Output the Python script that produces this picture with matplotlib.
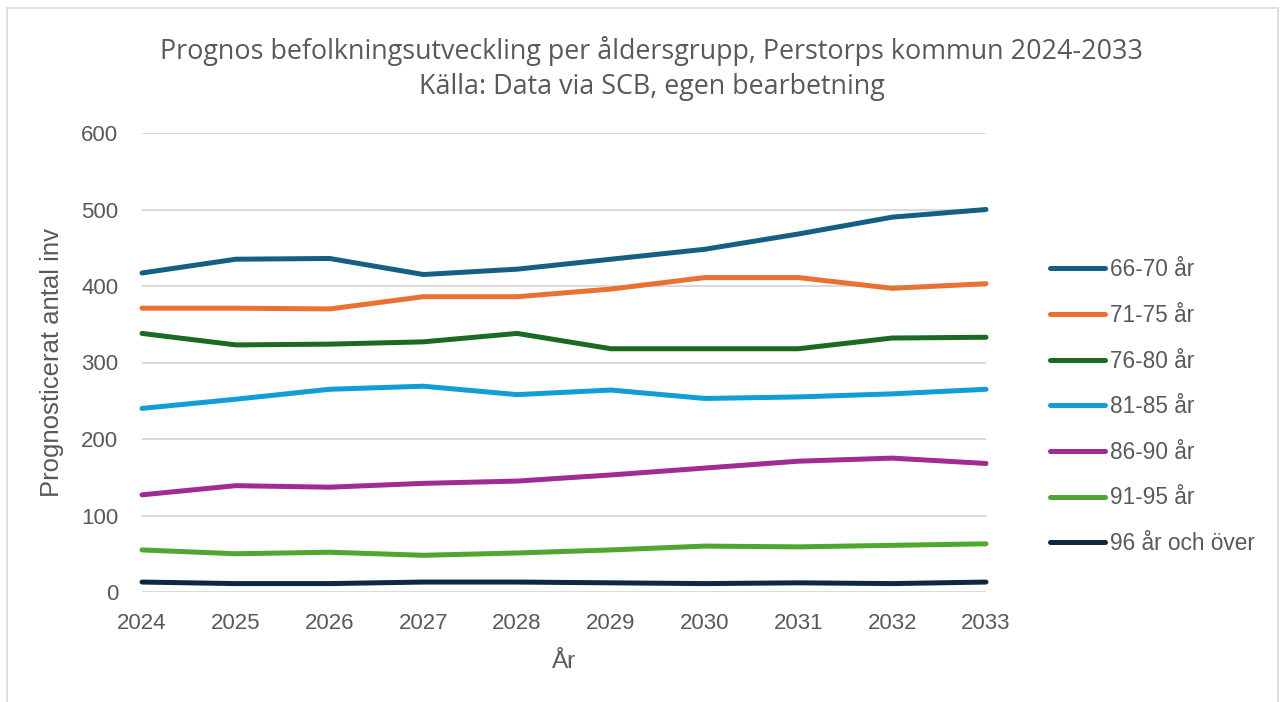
import matplotlib
matplotlib.use("Agg")
import matplotlib.pyplot as plt
from matplotlib.patches import Rectangle

years = [2024, 2025, 2026, 2027, 2028, 2029, 2030, 2031, 2032, 2033]
labels = ["66-70 år", "71-75 år", "76-80 år", "81-85 år", "86-90 år", "91-95 år", "96 år och över"]
s66_70 = [417, 435, 436, 415, 422, 435, 448, 468, 490, 500]
s71_75 = [371, 371, 370, 386, 386, 396, 411, 411, 397, 403]
s76_80 = [338, 323, 324, 327, 338, 318, 318, 318, 332, 333]
s81_85 = [240, 252, 265, 269, 258, 264, 253, 255, 259, 265]
s86_90 = [127, 139, 137, 142, 145, 153, 162, 171, 175, 168]
s91_95 = [55, 50, 52, 48, 51, 55, 60, 59, 61, 63]
s96 = [13, 11, 11, 13, 13, 12, 11, 12, 11, 13]
series = [s66_70, s71_75, s76_80, s81_85, s86_90, s91_95, s96]
colors = ["#156082", "#E97132", "#196B24", "#0F9ED5", "#A02B93", "#4EA72E", "#0E2841"]

title1 = "Prognos befolkningsutveckling per åldersgrupp, Perstorps kommun 2024-2033"
title2 = "Källa: Data via SCB, egen bearbetning"

W, H = 1280, 702
TXT = "#595959"
plt.rcParams['font.family'] = ['Liberation Sans', 'DejaVu Sans']

fig = plt.figure(figsize=(W / 100, H / 100), dpi=100)
fig.patch.set_facecolor("white")
fig.patches.append(Rectangle((7 / W, -0.05), (1278 - 7) / W, 1 - 8 / H + 0.05,
                             transform=fig.transFigure, fill=False,
                             edgecolor="#d9d9d9", linewidth=1.2))

ax = fig.add_axes([142 / W, 1 - 592 / H, (986 - 142) / W, (592 - 133) / H])
for vals, c, lab in zip(series, colors, labels):
    ax.plot(years, vals, color=c, lw=3.6, label=lab, solid_capstyle="round",
            solid_joinstyle="round", clip_on=False, zorder=3)

ax.set_xlim(2024, 2033)
ax.set_ylim(0, 600)
ax.set_xticks(years)
ax.set_yticks(range(0, 601, 100))
ax.grid(axis="y", color="#d9d9d9", lw=1.4)
ax.set_axisbelow(True)
for sp in ax.spines.values():
    sp.set_visible(False)
ax.tick_params(axis="both", length=0, labelsize=16, labelcolor=TXT)
ax.tick_params(axis="y", pad=17)
ax.tick_params(axis="x", pad=15)

ax.set_ylabel("Prognosticerat antal inv", fontsize=18.5, color=TXT, labelpad=12)
ax.set_xlabel("År", fontsize=17.5, color=TXT, labelpad=12)

fig.text(652 / W, 1 - 51 / H, title1, ha="center", va="center", fontsize=19.4,
         color=TXT, family=["Open Sans", "DejaVu Sans"])
fig.text(652 / W, 1 - 87 / H, title2, ha="center", va="center", fontsize=19.4,
         color=TXT, family=["Open Sans", "DejaVu Sans"])

leg = fig.legend(loc="center left", bbox_to_anchor=(1050 / W, 1 - 406.7 / H),
                 frameon=False, fontsize=16.3, labelcolor=TXT, handlelength=2.45,
                 handletextpad=0.2, labelspacing=1.0, borderpad=0, borderaxespad=0)

fig.savefig("out.png", dpi=100)
